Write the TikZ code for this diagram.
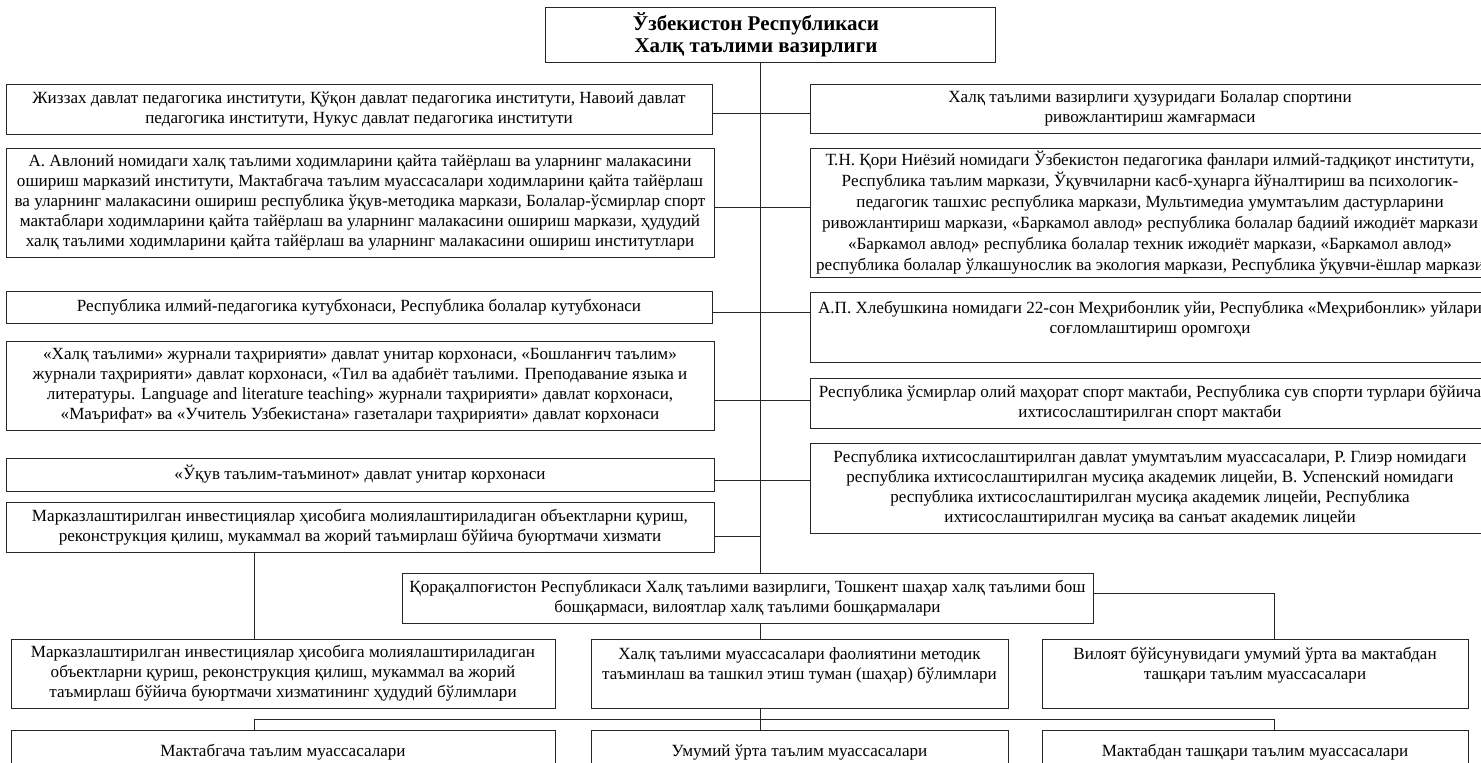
\documentclass[tikz,border=0pt]{standalone}
\usepackage{fontspec}
\setmainfont{Liberation Serif}
\begin{document}
\begin{tikzpicture}[x=1bp,y=-1bp,
  box/.style={draw=black!85, line width=0.9bp, inner sep=0pt, align=center,
    font=\fontsize{17.1bp}{20bp}\selectfont},
  titlebox/.style={box, font=\fontsize{21bp}{22bp}\selectfont\bfseries},
  conn/.style={draw=black!85, line width=0.9bp}]
\useasboundingbox (0,0) rectangle (1481,762);
\clip (0,0) rectangle (1481,762);
\newcommand\orgbox[7][box]{%
  \node[#1, minimum width={(#4-#3)*1bp}, minimum height={(#6-#5)*1bp}]
    (#2) at ({(#3+#4)/2},{(#5+#6)/2}) {#7};}
% top
\orgbox[titlebox]{top}{545}{995}{7}{62}{\hspace*{-28bp}Ўзбекистон Республикаси\\\hspace*{-28bp}Халқ таълими вазирлиги}
% left column
\orgbox{L1}{6}{712}{84}{134}{Жиззах давлат педагогика институти, Қўқон давлат педагогика институти, Навоий давлат\\педагогика институти, Нукус давлат педагогика институти}
\orgbox{L2}{6}{714}{148}{257}{А. Авлоний номидаги халқ таълими ходимларини қайта тайёрлаш ва уларнинг малакасини\\ошириш марказий институти, Мактабгача таълим муассасалари ходимларини қайта тайёрлаш\\ва уларнинг малакасини ошириш республика ўқув-методика маркази, Болалар-ўсмирлар спорт\\мактаблари ходимларини қайта тайёрлаш ва уларнинг малакасини ошириш маркази, ҳудудий\\халқ таълими ходимларини қайта тайёрлаш ва уларнинг малакасини ошириш институтлари}
\orgbox{L3}{6}{712}{291}{323}{Республика илмий-педагогика кутубхонаси, Республика болалар кутубхонаси}
\orgbox{L4}{6}{714}{341}{430}{«Халқ таълими» журнали таҳририяти» давлат унитар корхонаси, «Бошланғич таълим»\\журнали таҳририяти» давлат корхонаси, «Тил ва адабиёт таълими. Преподавание языка и\\литературы. Language and literature teaching» журнали таҳририяти» давлат корхонаси,\\«Маърифат» ва «Учитель Узбекистана» газеталари таҳририяти» давлат корхонаси}
\orgbox{L5}{6}{714}{458}{491}{«Ўқув таълим-таъминот» давлат унитар корхонаси}
\orgbox{L6}{6}{714}{502}{552}{Марказлаштирилган инвестициялар ҳисобига молиялаштириладиган объектларни қуриш,\\реконструкция қилиш, мукаммал ва жорий таъмирлаш бўйича буюртмачи хизмати}
% right column
\orgbox{R1}{810}{1490}{84}{133}{Халқ таълими вазирлиги ҳузуридаги Болалар спортини\\ривожлантириш жамғармаси}
\orgbox[box, font=\fontsize{17.1bp}{21bp}\selectfont]{R2}{810}{1490}{148}{277}{Т.Н. Қори Ниёзий номидаги Ўзбекистон педагогика фанлари илмий-тадқиқот институти,\\Республика таълим маркази, Ўқувчиларни касб-ҳунарга йўналтириш ва психологик-\\педагогик ташхис республика маркази, Мультимедиа умумтаълим дастурларини\\ривожлантириш маркази, «Баркамол авлод» республика болалар бадиий ижодиёт маркази\\«Баркамол авлод» республика болалар техник ижодиёт маркази, «Баркамол авлод»\\республика болалар ўлкашунослик ва экология маркази, Республика ўқувчи-ёшлар маркази}
\orgbox{R3}{810}{1490}{292}{362}{А.П. Хлебушкина номидаги 22-сон Меҳрибонлик уйи, Республика «Меҳрибонлик» уйлари\\соғломлаштириш оромгоҳи\\\mbox{}}
\orgbox{R4}{810}{1490}{378}{428}{Республика ўсмирлар олий маҳорат спорт мактаби, Республика сув спорти турлари бўйича\\ихтисослаштирилган спорт мактаби}
\orgbox{R5}{810}{1490}{443}{533}{Республика ихтисослаштирилган давлат умумтаълим муассасалари, Р. Глиэр номидаги\\республика ихтисослаштирилган мусиқа академик лицейи, В. Успенский номидаги\\республика ихтисослаштирилган мусиқа академик лицейи, Республика\\ихтисослаштирилган мусиқа ва санъат академик лицейи}
% lower part
\orgbox{K}{402}{1093}{573}{623}{Қорақалпоғистон Республикаси Халқ таълими вазирлиги, Тошкент шаҳар халқ таълими бош\\бошқармаси, вилоятлар халқ таълими бошқармалари}
\orgbox{M1}{11}{555}{639}{708}{Марказлаштирилган инвестициялар ҳисобига молиялаштириладиган\\объектларни қуриш, реконструкция қилиш, мукаммал ва жорий\\таъмирлаш бўйича буюртмачи хизматининг ҳудудий бўлимлари}
\orgbox{M2}{591}{1008}{639}{708}{Халқ таълими муассасалари фаолиятини методик\\таъминлаш ва ташкил этиш туман (шаҳар) бўлимлари\\\mbox{}}
\orgbox{M3}{1042}{1468}{639}{708}{Вилоят бўйсунувидаги умумий ўрта ва мактабдан\\ташқари таълим муассасалари\\\mbox{}}
\orgbox{B1}{11}{555}{730}{775}{Мактабгача таълим муассасалари}
\orgbox{B2}{591}{1008}{730}{775}{Умумий ўрта таълим муассасалари}
\orgbox{B3}{1042}{1468}{730}{775}{Мактабдан ташқари таълим муассасалари}
% junction coordinates
\coordinate (trunk) at (760,0);
\coordinate (j1) at (760,113);
\coordinate (j2) at (760,207);
\coordinate (j3) at (760,312);
\coordinate (j4) at (760,400);
\coordinate (j5) at (760,480);
\coordinate (j6) at (760,536);
\coordinate (d1) at (254,0);
\coordinate (d3) at (1274,593);
\coordinate (bus) at (0,719);
% connectors
\draw[conn] (top.south -| trunk) -- (K.north -| trunk);
\draw[conn] (L1.east |- j1) -- (R1.west |- j1);
\draw[conn] (L2.east |- j2) -- (R2.west |- j2);
\draw[conn] (L3.east |- j3) -- (R3.west |- j3);
\draw[conn] (L4.east |- j4) -- (R4.west |- j4);
\draw[conn] (L5.east |- j5) -- (R5.west |- j5);
\draw[conn] (L6.east |- j6) -- (j6);
\draw[conn] (L6.south -| d1) -- (M1.north -| d1);
\draw[conn] (K.south -| trunk) -- (M2.north -| trunk);
\draw[conn] (M2.south -| trunk) -- (B2.north -| trunk);
\draw[conn] (K.east |- d3) -- (d3) -- (M3.north -| d3);
\draw[conn] (B1.north -| d1) -- (d1 |- bus) -- (d3 |- bus) -- (B3.north -| d3);
\end{tikzpicture}
\end{document}
